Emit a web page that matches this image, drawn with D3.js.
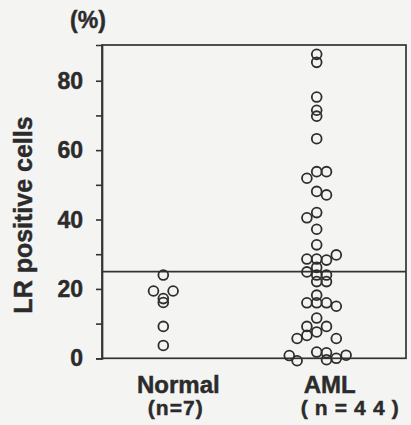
<!DOCTYPE html>
<html><head><meta charset="utf-8">
<script src="https://cdn.jsdelivr.net/npm/d3@7"></script>
<style>
html,body{margin:0;padding:0;background:#f4f4f2;}
svg{display:block;}
text{font-family:"Liberation Sans",Arial,sans-serif;font-weight:bold;fill:#2b2b2b;stroke:#2b2b2b;stroke-width:0.45px;}
</style></head>
<body>
<svg id="chart" width="411" height="425"></svg>
<script>
// ---- data ----
const groups = ["Normal", "AML"];
const groupCounts = ["(n=7)", "(n=44)"];
const normalValues = [24.0, 19.4, 19.4, 17.2, 16.1, 9.2, 3.7];
const normalSlot   = [0, -1, 1, 0, 0, 0, 0];
const amlValues = [87.6, 85.3, 75.3, 71.5, 69.8, 63.3, 53.8, 53.8, 51.9, 48.1,
                   47.1, 42.0, 40.5, 37.2, 32.7, 29.8, 28.6, 28.6, 28.3, 26.2,
                   24.9, 24.0, 24.0, 22.1, 22.1, 18.2, 16.0, 16.0, 16.0, 15.0,
                   11.6, 9.2, 9.2, 7.6, 6.6, 5.7, 5.7, 0.8, -0.7, 1.8,
                   1.6, -0.4, 0.0, 0.9];
const amlSlot   = [0, 0, 0, 0, 0, 0, 0, 1, -1, 0,
                   1, 0, -1, 0, 0, 2, -1, 0, 1, 0,
                   -1, 0, 1, 0, 1, 0, -1, 0, 1, 2,
                   0, -1, 1, 0, -1, -2, 2, -2.8, -2, 0,
                   1, 1, 2, 3];
const cutoff = 25;
const yTicks = [0, 10, 20, 30, 40, 50, 60, 70, 80];
const yTickLabels = ["0", "", "20", "", "40", "", "60", "", "80"];
const yTitle = "LR positive cells";
const unitLabel = "(%)";

// ---- layout ----
const svg = d3.select("#chart");
const L = 102, R = 406, T = 45, B = 358.3;
const y = d3.scaleLinear().domain([0, 90.3]).range([B, T]);
const x = d3.scalePoint().domain(groups).range([163.3, 316.7]);
const dodge = d3.scaleLinear().domain([0, 1]).range([0, 9.8]);

const pts = [];
normalValues.forEach((v, i) => pts.push({g: "Normal", v, s: normalSlot[i]}));
amlValues.forEach((v, i) => pts.push({g: "AML", v, s: amlSlot[i]}));

// frame
svg.append("rect").attr("x", L).attr("y", T).attr("width", R - L).attr("height", B - T)
  .attr("fill", "none").attr("stroke", "#333").attr("stroke-width", 1.7);

// y axis
const yAxis = d3.axisLeft(y).tickValues(yTicks).tickSize(6).tickPadding(13)
  .tickFormat((d, i) => yTickLabels[i]);
const ga = svg.append("g").attr("transform", `translate(${L},0)`).call(yAxis);
ga.select(".domain").attr("stroke", "#333").attr("stroke-width", 1.7);
ga.selectAll(".tick line").attr("stroke", "#333").attr("stroke-width", 1.6);
ga.selectAll(".tick text").style("font-size", "23px").style("font-family", "Liberation Sans, Arial, sans-serif")
  .style("font-weight", "bold").attr("fill", "#2b2b2b").attr("dy", "0.33em");

// cutoff line
svg.append("line").attr("x1", L).attr("x2", R).attr("y1", y(cutoff)).attr("y2", y(cutoff))
  .attr("stroke", "#333").attr("stroke-width", 1.7);

// points
svg.append("g").selectAll("circle").data(pts).join("circle")
  .attr("cx", d => x(d.g) + dodge(d.s))
  .attr("cy", d => y(d.v))
  .attr("r", 4.9)
  .attr("fill", "none").attr("stroke", "#2e2e2e").attr("stroke-width", 1.8);

// x labels (group name + count, one text each)
const labelShift = [15, 13];
const countShift = [12, 33];
const countWidth = [55, 98];
groups.forEach((g, i) => {
  const t = svg.append("text").attr("text-anchor", "middle");
  t.append("tspan").attr("x", x(g) + labelShift[i]).attr("y", 393)
    .style("font-size", "24px").text(g);
  t.append("tspan").attr("x", x(g) + countShift[i]).attr("y", 415)
    .style("font-size", "21px")
    .attr("textLength", countWidth[i]).attr("lengthAdjust", "spacing")
    .text(groupCounts[i]);
});

// y title
svg.append("text").attr("transform", `translate(32,215) rotate(-90)`)
  .attr("text-anchor", "middle").style("font-size", "25px").text(yTitle);
// unit
svg.append("text").attr("x", 88).attr("y", 28).attr("text-anchor", "middle")
  .style("font-size", "23px").text(unitLabel);
</script>
</body></html>
